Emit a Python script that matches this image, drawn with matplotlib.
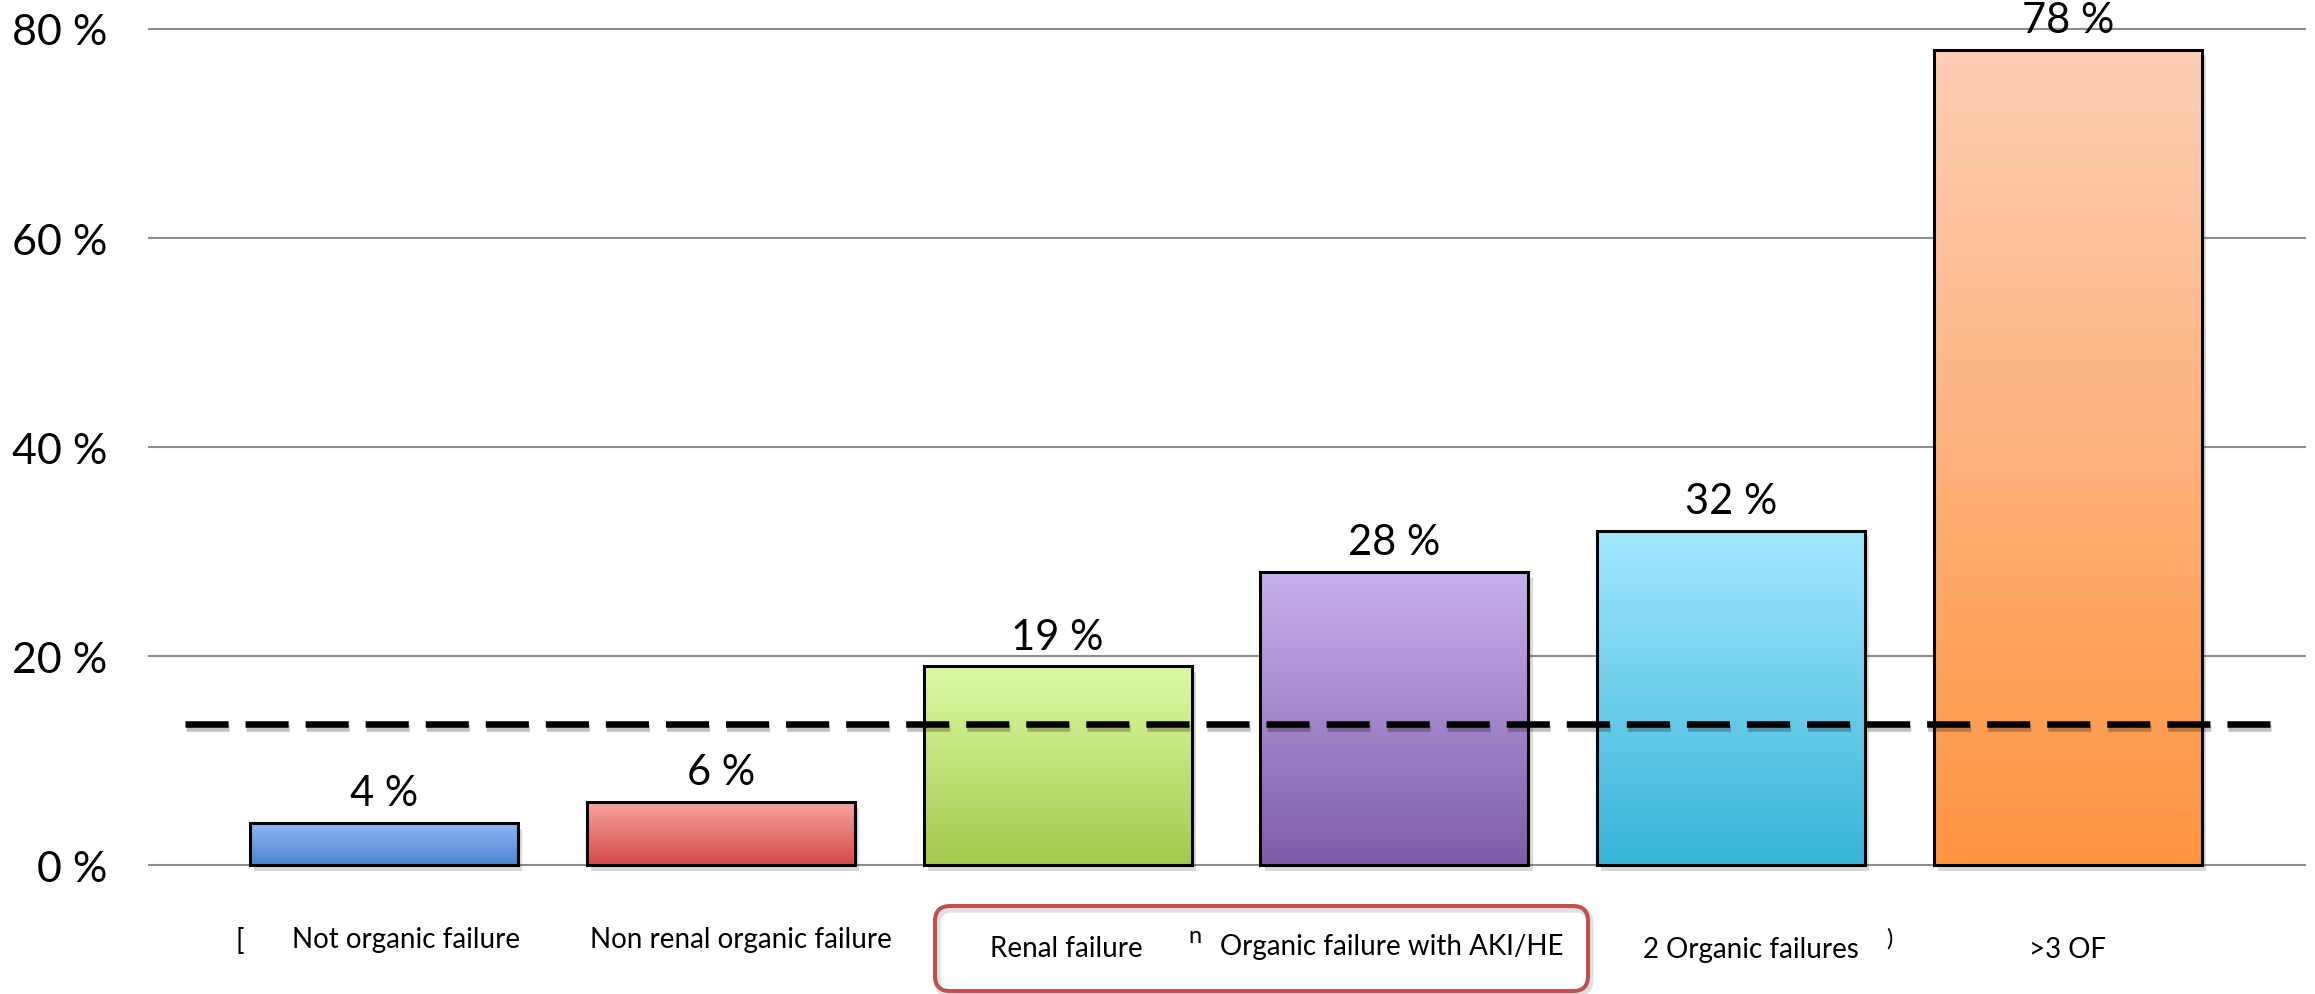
import matplotlib
matplotlib.use("Agg")
import matplotlib.pyplot as plt
import matplotlib.patheffects as pe
from matplotlib.patches import FancyBboxPatch
from matplotlib.colors import LinearSegmentedColormap
import numpy as np

# mortality by organ failure group
CATEGORIES = ["Not organic failure", "Non renal organic failure", "Renal failure",
              "Organic failure with AKI/HE", "2 Organic failures", ">3 OF"]
VALUES = [4, 6, 19, 28, 32, 78]
OVERALL = 13.5

# gradient colours per bar (top, bottom)
COLORS_TOP = ["#90b7f3", "#f7a4a1", "#dcfaa3", "#c8afee", "#a4e8ff", "#fecfb6"]
COLORS_BOTTOM = ["#4a84d4", "#d44a48", "#a4ca4e", "#7f5ca9", "#37b4d8", "#fd9440"]

Y_TICKS = [0, 20, 40, 60, 80]

plt.rcParams['font.family'] = ['Lato', 'DejaVu Sans']

W, H = 2315, 995
fig = plt.figure(figsize=(W / 100, H / 100), dpi=100)
ax = fig.add_axes([148 / W, 0, (2306 - 148) / W, 1])

XMIN, XMAX = -0.7007, 5.7067
YMIN, YMAX = -12.34, 82.87
BAR_W = 0.796

x = np.arange(len(CATEGORIES))
bars = ax.bar(x, VALUES, width=BAR_W, facecolor="none", edgecolor="black",
              linewidth=2.2, zorder=3)

grad = np.linspace(0, 1, 256).reshape(-1, 1)
for b, ctop, cbot in zip(bars, COLORS_TOP, COLORS_BOTTOM):
    cmap = LinearSegmentedColormap.from_list("g", [ctop, cbot])
    bx, by = b.get_x(), b.get_y()
    bw, bh = b.get_width(), b.get_height()
    # soft drop shadow
    shadow = plt.Rectangle((bx, by), bw, bh, facecolor="white", edgecolor="none", zorder=1.9,
                           path_effects=[pe.SimplePatchShadow(offset=(3, -4), shadow_rgbFace="k", alpha=0.15)])
    ax.add_patch(shadow)
    im = ax.imshow(grad, cmap=cmap, aspect="auto", extent=(bx, bx + bw, by, by + bh),
                   origin="upper", zorder=2.5)
    im.set_clip_path(b)

for xi, v in zip(x, VALUES):
    ax.text(xi, v + 1.72, f"{v} %", ha="center", va="baseline", fontsize=30, zorder=5)

# overall level
ax.plot([-0.591, 5.635], [OVERALL, OVERALL], color="black", linewidth=4.7,
        dashes=(6.6, 2.6), solid_capstyle="butt", dash_capstyle="butt", zorder=4,
        path_effects=[pe.SimpleLineShadow(offset=(1, -3), alpha=0.25), pe.Normal()])

ax.set_xlim(XMIN, XMAX)
ax.set_ylim(YMIN, YMAX)
ax.set_yticks(Y_TICKS)
ax.set_yticklabels([f"{t} %" for t in Y_TICKS], fontsize=31)
ax.tick_params(axis="y", length=0, pad=29)
ax.set_xticks([])
for t in Y_TICKS:
    ax.axhline(t, color="#8c8c8c", linewidth=1.5, zorder=1)
for s in ax.spines.values():
    s.set_visible(False)

# category labels under bars
label_dx = [0.065, 0.061, 0.027, -0.009, 0.059, 0.0]
label_y = [-7.85, -7.85, -8.71, -8.52, -8.80, -8.80]
for xi, lab, dx, ly in zip(x, CATEGORIES, label_dx, label_y):
    ax.text(xi + dx, ly, lab, ha="center", va="baseline", fontsize=20)

# stray glyphs left over from the slide
ax.text(-0.428, -8.04, "[", ha="center", va="baseline", fontsize=20)
ax.text(2.408, -7.37, "n", ha="center", va="baseline", fontsize=17)
ax.text(4.469, -7.6, ")", ha="center", va="baseline", fontsize=17)

# highlight box around the renal groups
bx0, bx1, by0, by1 = 1.636, 3.575, -12.06, -3.92
box_kw = dict(boxstyle="round,pad=0,rounding_size=0.045",
              mutation_aspect=336.8 / 10.45, facecolor="none", clip_on=False)
box_shadow = FancyBboxPatch((bx0 + 0.006, by0 - 0.3), bx1 - bx0, by1 - by0,
                            edgecolor="#000000", alpha=0.12, linewidth=5, zorder=5.9, **box_kw)
ax.add_patch(box_shadow)
box = FancyBboxPatch((bx0, by0), bx1 - bx0, by1 - by0,
                     edgecolor="#c0504d", linewidth=2.9, zorder=6, **box_kw)
ax.add_patch(box)

fig.savefig("out.png", dpi=100)
